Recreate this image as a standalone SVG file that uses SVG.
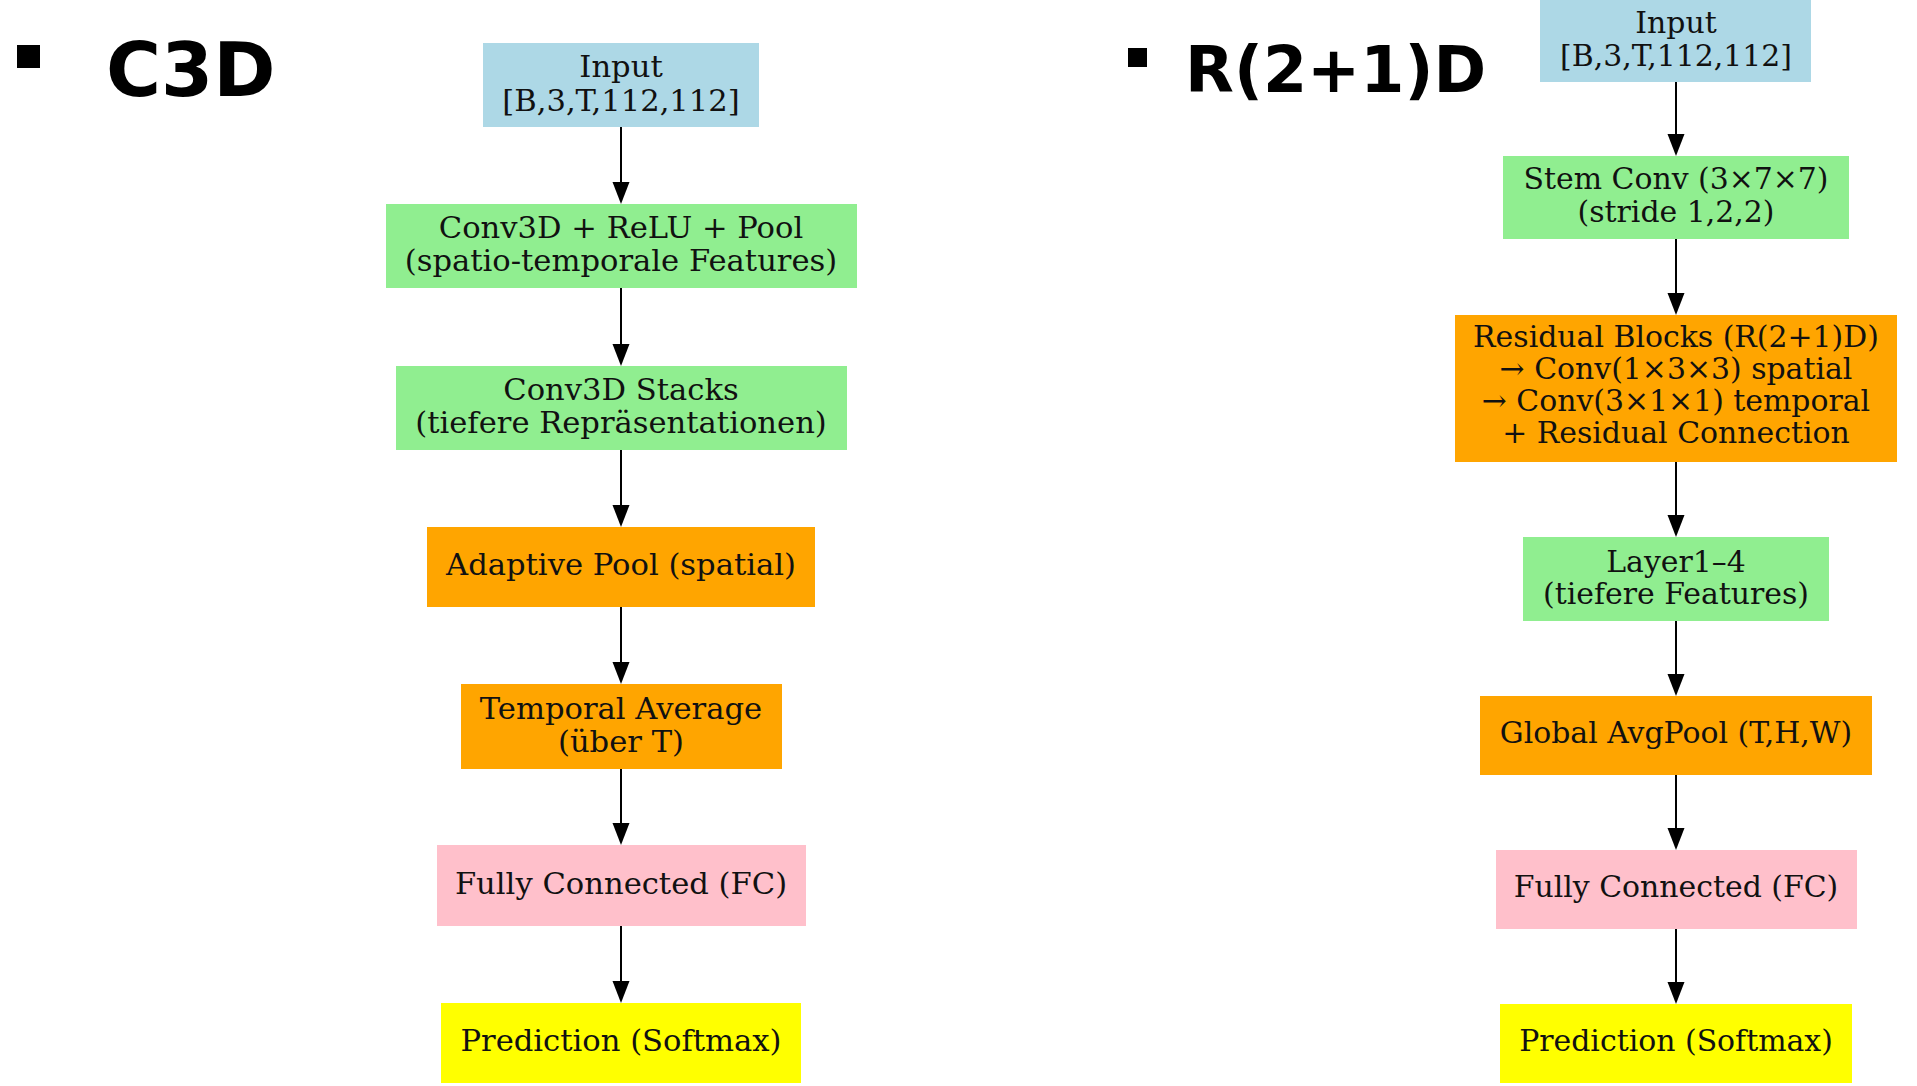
<svg xmlns="http://www.w3.org/2000/svg" width="1917" height="1086" viewBox="0 0 1917 1086">
  <style>
    .title { font-family: "DejaVu Sans", "Liberation Sans", sans-serif; font-weight: bold; fill: #000; }
    .lbl { font-family: "DejaVu Serif", "Liberation Serif", serif; fill: #111; text-anchor: middle; }
    .l { font-size: 30.6px; }
    .r { font-size: 29.9px; }
    .blue { fill: #ADD8E6; }
    .green { fill: #90EE90; }
    .orange { fill: #FFA500; }
    .pink { fill: #FFC0CB; }
    .yellow { fill: #FFFF00; }
    .edge { stroke: #000; stroke-width: 2; fill: none; marker-end: url(#ah); }
  </style>
  <defs>
    <marker id="ah" markerUnits="userSpaceOnUse" markerWidth="22" markerHeight="18" refX="0" refY="8.5" orient="auto">
      <path d="M0,0 L22,8.5 L0,17 z" fill="#000"/>
    </marker>
  </defs>
  <rect width="1917" height="1086" fill="#fff"/>

  <!-- Titles -->
  <g id="title-c3d">
    <rect x="17" y="45" width="23" height="23" fill="#000"/>
    <text class="title" x="106" y="96" font-size="75">C3D</text>
  </g>
  <g id="title-r21d">
    <rect x="1128" y="48" width="19" height="19" fill="#000"/>
    <text class="title" x="1185" y="92" font-size="63.5">R(2+1)D</text>
  </g>

  <!-- Left column: C3D -->
  <g id="c3d-input">
    <rect class="blue" x="483" y="43" width="276" height="84"/>
    <text class="lbl l" x="621" y="77">Input</text>
    <text class="lbl l" x="621" y="111">[B,3,T,112,112]</text>
  </g>
  <g id="c3d-conv">
    <rect class="green" x="386" y="204" width="471" height="84"/>
    <text class="lbl l" x="621" y="237.5">Conv3D + ReLU + Pool</text>
    <text class="lbl l" x="621" y="270.5">(spatio-temporale Features)</text>
  </g>
  <g id="c3d-stacks">
    <rect class="green" x="396" y="366" width="451" height="84"/>
    <text class="lbl l" x="621" y="399.5">Conv3D Stacks</text>
    <text class="lbl l" x="621" y="432.5">(tiefere Repräsentationen)</text>
  </g>
  <g id="c3d-adaptive">
    <rect class="orange" x="427" y="527" width="388" height="80"/>
    <text class="lbl l" x="621" y="575">Adaptive Pool (spatial)</text>
  </g>
  <g id="c3d-temporal">
    <rect class="orange" x="461" y="684" width="321" height="85"/>
    <text class="lbl l" x="621" y="718.5">Temporal Average</text>
    <text class="lbl l" x="621" y="751.5">(über T)</text>
  </g>
  <g id="c3d-fc">
    <rect class="pink" x="437" y="845" width="369" height="81"/>
    <text class="lbl l" x="621" y="893.5">Fully Connected (FC)</text>
  </g>
  <g id="c3d-pred">
    <rect class="yellow" x="441" y="1003" width="360" height="80"/>
    <text class="lbl l" x="621" y="1051">Prediction (Softmax)</text>
  </g>

  <!-- Right column: R(2+1)D -->
  <g id="r21d-input">
    <rect class="blue" x="1540" y="0" width="271" height="82"/>
    <text class="lbl r" x="1676" y="32.5">Input</text>
    <text class="lbl r" x="1676" y="66">[B,3,T,112,112]</text>
  </g>
  <g id="r21d-stem">
    <rect class="green" x="1503" y="156" width="346" height="83"/>
    <text class="lbl r" x="1676" y="189">Stem Conv (3×7×7)</text>
    <text class="lbl r" x="1676" y="222">(stride 1,2,2)</text>
  </g>
  <g id="r21d-residual">
    <rect class="orange" x="1455" y="315" width="442" height="147"/>
    <text class="lbl r" x="1676" y="347">Residual Blocks (R(2+1)D)</text>
    <text class="lbl r" x="1676" y="379">→ Conv(1×3×3) spatial</text>
    <text class="lbl r" x="1676" y="411">→ Conv(3×1×1) temporal</text>
    <text class="lbl r" x="1676" y="443">+ Residual Connection</text>
  </g>
  <g id="r21d-layers">
    <rect class="green" x="1523" y="537" width="306" height="84"/>
    <text class="lbl r" x="1676" y="571.5">Layer1–4</text>
    <text class="lbl r" x="1676" y="603.5">(tiefere Features)</text>
  </g>
  <g id="r21d-gap">
    <rect class="orange" x="1480" y="696" width="392" height="79"/>
    <text class="lbl r" x="1676" y="743">Global AvgPool (T,H,W)</text>
  </g>
  <g id="r21d-fc">
    <rect class="pink" x="1496" y="850" width="361" height="79"/>
    <text class="lbl r" x="1676" y="897">Fully Connected (FC)</text>
  </g>
  <g id="r21d-pred">
    <rect class="yellow" x="1500" y="1004" width="352" height="79"/>
    <text class="lbl r" x="1676" y="1051">Prediction (Softmax)</text>
  </g>

  <!-- Connectors -->
  <g id="connectors">
    <line class="edge" x1="621" y1="127" x2="621" y2="182"/>
    <line class="edge" x1="621" y1="288" x2="621" y2="344"/>
    <line class="edge" x1="621" y1="450" x2="621" y2="505"/>
    <line class="edge" x1="621" y1="607" x2="621" y2="662"/>
    <line class="edge" x1="621" y1="769" x2="621" y2="823"/>
    <line class="edge" x1="621" y1="926" x2="621" y2="981"/>
    <line class="edge" x1="1676" y1="82" x2="1676" y2="134"/>
    <line class="edge" x1="1676" y1="239" x2="1676" y2="293"/>
    <line class="edge" x1="1676" y1="462" x2="1676" y2="515"/>
    <line class="edge" x1="1676" y1="621" x2="1676" y2="674"/>
    <line class="edge" x1="1676" y1="775" x2="1676" y2="828"/>
    <line class="edge" x1="1676" y1="929" x2="1676" y2="982"/>
  </g>
</svg>
